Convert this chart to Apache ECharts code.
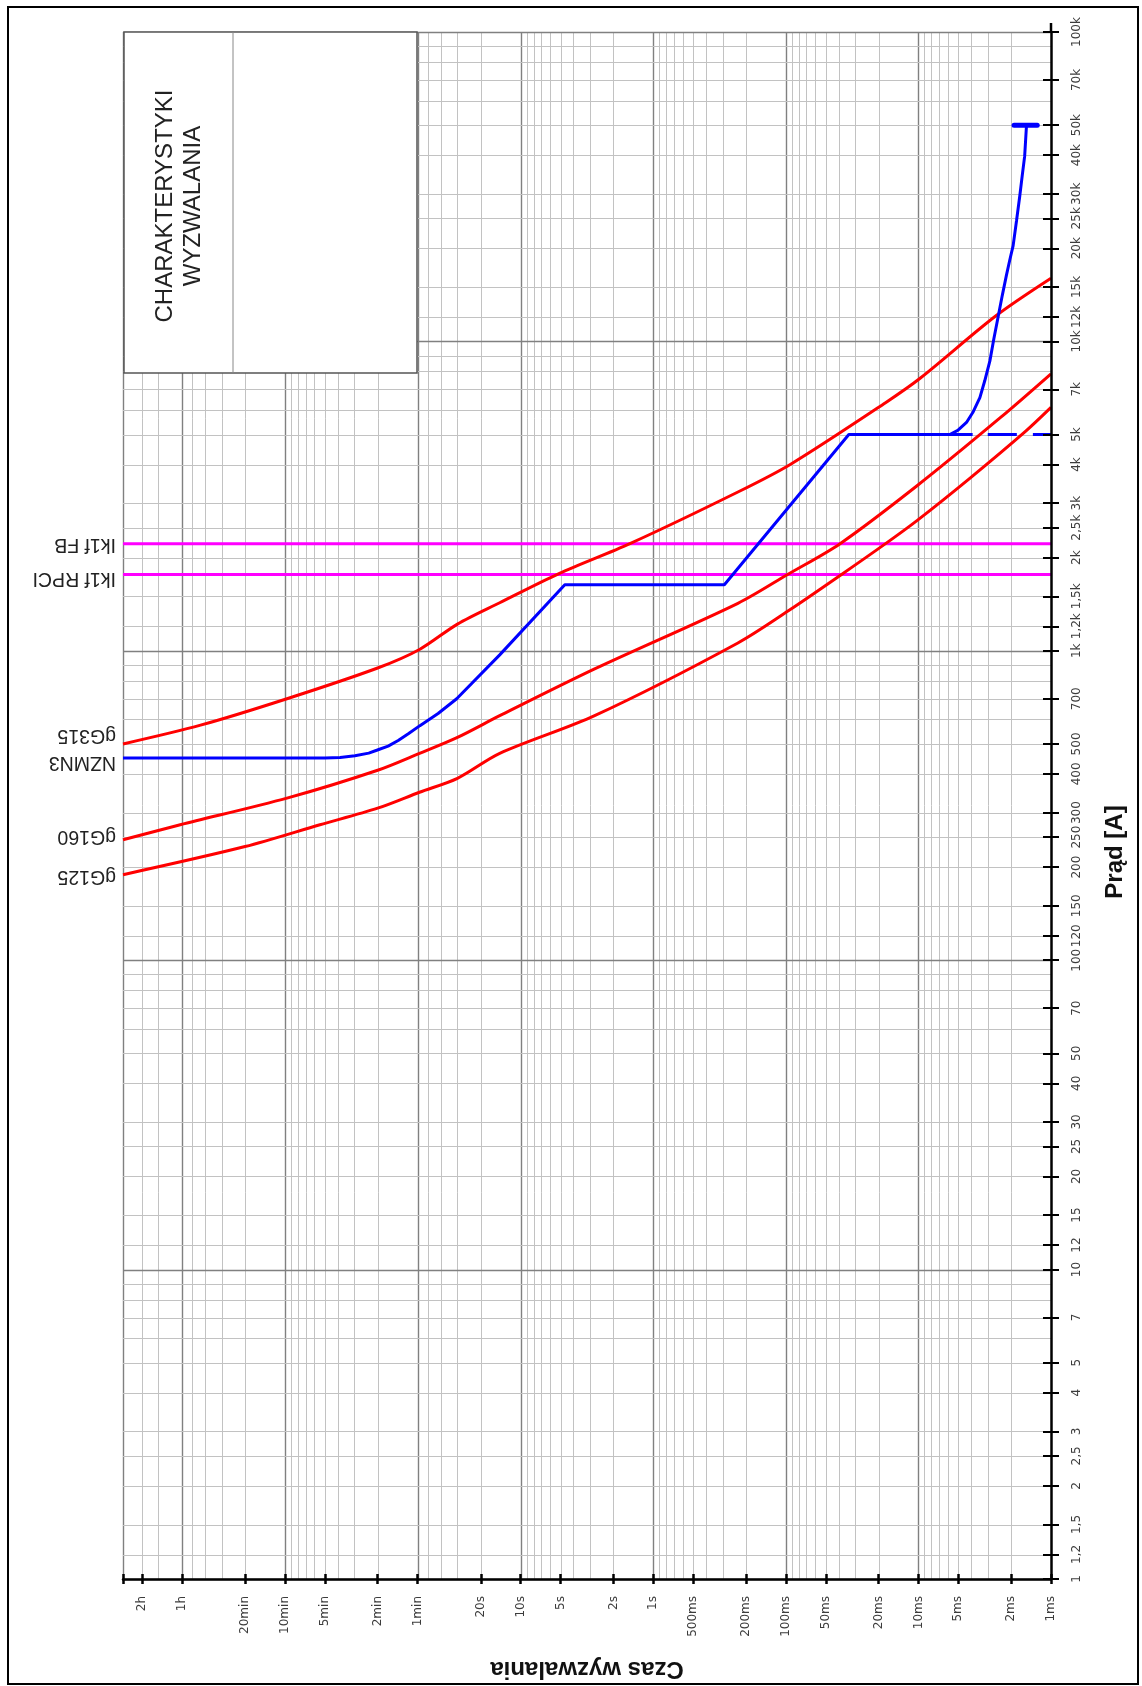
<!DOCTYPE html>
<html>
<head>
<meta charset="utf-8">
<script src="https://cdn.jsdelivr.net/npm/echarts@6/dist/echarts.min.js"></script>
<style>
  html, body { margin: 0; padding: 0; background: #fff; }
  #chart { width: 1142px; height: 1686px; }
</style>
</head>
<body>
<div id="chart"></div>
<script>
// Axis ranges: trip time in seconds (horizontal, reversed), current in amperes (vertical)
const T_MIN = 0.001, T_MAX = 10000;
const I_MIN = 1, I_MAX = 100000;

// Time axis ticks and labels
const timeTickValues = [10000, 7200, 3600, 1200, 600, 300, 120, 60, 20, 10, 5, 2, 1,
  0.5, 0.2, 0.1, 0.05, 0.02, 0.01, 0.005, 0.002, 0.001];
const timeTickLabels = ['', '2h', '1h', '20min', '10min', '5min', '2min', '1min', '20s', '10s', '5s', '2s', '1s',
  '500ms', '200ms', '100ms', '50ms', '20ms', '10ms', '5ms', '2ms', '1ms'];

// Current axis ticks and labels
const currentTickValues = [1, 1.2, 1.5, 2, 2.5, 3, 4, 5, 7, 10, 12, 15, 20, 25, 30, 40, 50, 70,
  100, 120, 150, 200, 250, 300, 400, 500, 700, 1000, 1200, 1500, 2000, 2500, 3000, 4000, 5000, 7000,
  10000, 12000, 15000, 20000, 25000, 30000, 40000, 50000, 70000, 100000];
const currentTickLabels = ['1', '1,2', '1,5', '2', '2,5', '3', '4', '5', '7', '10', '12', '15', '20', '25', '30', '40', '50', '70',
  '100', '120', '150', '200', '250', '300', '400', '500', '700', '1k', '1,2k', '1,5k', '2k', '2,5k', '3k', '4k', '5k', '7k',
  '10k', '12k', '15k', '20k', '25k', '30k', '40k', '50k', '70k', '100k'];

// Time grid lines (ms/s decades, then minutes and hours)
const timeGridLines = [0.002, 0.003, 0.004, 0.005, 0.006, 0.007, 0.008, 0.009,
  0.01, 0.02, 0.03, 0.04, 0.05, 0.06, 0.07, 0.08, 0.09,
  0.1, 0.2, 0.3, 0.4, 0.5, 0.6, 0.7, 0.8, 0.9,
  1, 2, 3, 4, 5, 6, 7, 8, 9,
  10, 20, 30, 40, 50,
  60, 120, 180, 240, 300, 360, 420, 480, 540,
  600, 1200, 1800, 2400, 3000,
  3600, 5400, 7200, 10000];
const timeGridMajor = [0.01, 0.1, 1, 10, 60, 600, 3600, 10000];

// Current grid lines
const currentGridLines = [1, 1.2, 1.5, 2, 2.5, 3, 4, 5, 6, 7, 8, 9,
  10, 12, 15, 20, 25, 30, 40, 50, 60, 70, 80, 90,
  100, 120, 150, 200, 250, 300, 400, 500, 600, 700, 800, 900,
  1000, 1200, 1500, 2000, 2500, 3000, 4000, 5000, 6000, 7000, 8000, 9000,
  10000, 12000, 15000, 20000, 25000, 30000, 40000, 50000, 60000, 70000, 80000, 90000, 100000];
const currentGridMajor = [1, 10, 100, 1000, 10000, 100000];

// Characteristics: [time s, current A]
const gG315 = [[10000, 500], [2600, 575], [580, 700], [120, 880], [58, 1010], [30, 1220], [14.4, 1430],
  [5.1, 1780], [1.5, 2220], [0.23, 3260], [0.092, 4010], [0.0177, 6340], [0.0096, 7630], [0.0026, 12100], [0.001, 16000]];
const gG160 = [[10000, 245], [3700, 274], [580, 334], [120, 411], [58, 466], [30, 525], [14.4, 617],
  [2.77, 874], [0.23, 1424], [0.097, 1765], [0.039, 2220], [0.0103, 3410], [0.0024, 5680], [0.001, 7860]];
const gG125 = [[10000, 189], [1200, 233], [327, 274], [120, 310], [58, 349], [30, 387], [14.4, 466],
  [2.77, 617], [0.23, 1060], [0.092, 1362], [0.038, 1765], [0.0177, 2220], [0.0102, 2640], [0.0041, 3610],
  [0.00155, 5130], [0.001, 6120]];
const nzmn3 = [[10000, 450], [300, 450], [230, 452], [178, 458], [140, 467], [122, 477], [100, 492],
  [84, 513], [70, 540], [57.6, 573], [42, 627], [30.4, 700], [14.4, 970], [4.65, 1635], [0.291, 1635],
  [0.0335, 5000], [0.0058, 5000], [0.00505, 5156], [0.00434, 5470], [0.00389, 5890], [0.00344, 6580],
  [0.00316, 7460], [0.00289, 8650], [0.0027, 10180], [0.0025, 12060], [0.00233, 14090], [0.00217, 16340],
  [0.00205, 18260], [0.00193, 20400], [0.00182, 24540], [0.00172, 29500], [0.00165, 34220], [0.00158, 39700],
  [0.00153, 50000]];
// Instantaneous release level, drawn as separate dashes ('-' breaks the line)
const nzmn3Instant = [[0.0058, 5000], [0.0039, 5000], [0.0039, '-'],
  [0.0030, 5000], [0.00181, 5000], [0.00181, '-'],
  [0.00137, 5000], [0.001, 5000]];
const nzmn3Cap = [[0.0019, 50000], [0.00127, 50000]];
const ik1fFB = [[10000, 2220], [0.001, 2220]];
const ik1fRPCI = [[10000, 1765], [0.001, 1765]];

const curveLabels = [
  { text: 'Ik1f FB', value: 2220, dy: 1 },
  { text: 'Ik1f RPCI', value: 1765, dy: 4 },
  { text: 'gG315', value: 500, dy: -9 },
  { text: 'NZMN3', value: 450, dy: 4 },
  { text: 'gG160', value: 245, dy: -3 },
  { text: 'gG125', value: 189, dy: 2 }
];

const RED = '#ff0000', BLUE = '#0000ff', MAGENTA = '#ff00ff';
const TICK_FONT = '"DejaVu Sans", sans-serif';
const SANS = '"Liberation Sans", Arial, sans-serif';

function labelLookup(values, labels) {
  return function (v) {
    for (let i = 0; i < values.length; i++) {
      if (Math.abs(Math.log10(v) - Math.log10(values[i])) < 1e-6) return labels[i];
    }
    return '';
  };
}

const timeLabelValues = timeTickValues.filter((v, i) => timeTickLabels[i] !== '');

const chart = echarts.init(document.getElementById('chart'));

const xBase = {
  type: 'log', logBase: 10, min: T_MIN, max: T_MAX, inverse: true, position: 'bottom',
  splitLine: { show: false }, minorTick: { show: false }, minorSplitLine: { show: false }, z: 10
};
const yBase = {
  type: 'log', logBase: 10, min: I_MIN, max: I_MAX, position: 'right',
  splitLine: { show: false }, minorTick: { show: false }, minorSplitLine: { show: false }, z: 10
};

function lineSeries(name, data, color, width, extra) {
  return Object.assign({
    name, type: 'line', data, showSymbol: false, symbol: 'none', z: 4,
    lineStyle: { color, width }, silent: true, animation: false
  }, extra || {});
}

chart.setOption({
  animation: false,
  backgroundColor: '#fff',
  grid: { left: 123, right: 91, top: 32, bottom: 97, containLabel: false },
  xAxis: [
    Object.assign({}, xBase, {
      axisLine: { show: true, lineStyle: { color: '#000', width: 2.5 } },
      axisTick: { show: true, customValues: timeTickValues, length: 5, lineStyle: { color: '#000', width: 2.5 } },
      axisLabel: {
        show: true, customValues: timeLabelValues, rotate: 90, margin: 17,
        formatter: labelLookup(timeTickValues, timeTickLabels),
        color: '#3c3c3c', fontFamily: TICK_FONT, fontSize: 12
      },
      name: 'Czas wyzwalania', nameLocation: 'middle', nameGap: 78, nameRotate: 180,
      nameTextStyle: { fontFamily: SANS, fontWeight: 'bold', fontSize: 24, color: '#111' }
    }),
    Object.assign({}, xBase, {
      axisLine: { show: false },
      axisTick: { show: true, inside: true, customValues: timeTickValues, length: 5, lineStyle: { color: '#000', width: 2.5 } },
      axisLabel: { show: false }
    })
  ],
  yAxis: [
    Object.assign({}, yBase, {
      axisLine: { show: true, lineStyle: { color: '#000', width: 2.5 } },
      axisTick: { show: true, customValues: currentTickValues, length: 8, lineStyle: { color: '#000', width: 2 } },
      axisLabel: {
        show: true, customValues: currentTickValues, rotate: 90, margin: 20,
        formatter: labelLookup(currentTickValues, currentTickLabels),
        color: '#3c3c3c', fontFamily: TICK_FONT, fontSize: 12
      }
    }),
    Object.assign({}, yBase, {
      axisLine: { show: false },
      axisTick: { show: true, inside: true, customValues: currentTickValues, length: 8, lineStyle: { color: '#000', width: 2 } },
      axisLabel: { show: false }
    })
  ],
  series: [
    {
      type: 'custom', name: 'time grid', z: 1, silent: true,
      data: timeGridLines.map(t => [t, I_MIN, timeGridMajor.includes(t) ? 1 : 0]),
      encode: { x: 0, y: 1 },
      renderItem: function (params, api) {
        const t = api.value(0);
        const a = api.coord([t, I_MIN]);
        const b = api.coord([t, I_MAX]);
        const x = Math.round(a[0]) + 0.5;
        return {
          type: 'line', shape: { x1: x, y1: a[1], x2: x, y2: b[1] },
          style: { stroke: api.value(2) ? '#808080' : '#c2c2c2', lineWidth: api.value(2) ? 1.4 : 1 }
        };
      }
    },
    {
      type: 'custom', name: 'current grid', z: 1, silent: true,
      data: currentGridLines.map(i => [T_MIN, i, currentGridMajor.includes(i) ? 1 : 0]),
      encode: { x: 0, y: 1 },
      renderItem: function (params, api) {
        const i = api.value(1);
        const a = api.coord([T_MAX, i]);
        const b = api.coord([T_MIN, i]);
        const y = Math.round(a[1]) + 0.5;
        return {
          type: 'line', shape: { x1: a[0], y1: y, x2: b[0], y2: y },
          style: { stroke: api.value(2) ? '#808080' : '#c2c2c2', lineWidth: api.value(2) ? 1.4 : 1 }
        };
      }
    },
    lineSeries('Ik1f FB', ik1fFB, MAGENTA, 3),
    lineSeries('Ik1f RPCI', ik1fRPCI, MAGENTA, 3),
    lineSeries('gG315', gG315, RED, 3, { smooth: 0.3 }),
    lineSeries('gG160', gG160, RED, 3, { smooth: 0.3 }),
    lineSeries('gG125', gG125, RED, 3, { smooth: 0.3 }),
    lineSeries('NZMN3', nzmn3, BLUE, 3),
    lineSeries('NZMN3 instantaneous', nzmn3Instant, BLUE, 3, { connectNulls: false }),
    lineSeries('NZMN3 limit', nzmn3Cap, BLUE, 5, { lineStyle: { color: BLUE, width: 5, cap: 'round' } })
  ]
});

// Frame, title block, axis title and curve labels
const graphics = [
  {
    type: 'rect', z: 50, silent: true,
    shape: { x: 124, y: 32, width: 293, height: 341 },
    style: { fill: '#fff', stroke: '#555', lineWidth: 1.5 }
  },
  {
    type: 'line', z: 51, silent: true,
    shape: { x1: 233, y1: 32, x2: 233, y2: 373 },
    style: { stroke: '#888', lineWidth: 1 }
  },
  {
    type: 'text', z: 52, silent: true, x: 179, y: 206, rotation: Math.PI / 2,
    style: {
      text: 'CHARAKTERYSTYKI\nWYZWALANIA', align: 'center', verticalAlign: 'middle',
      font: '24px "Liberation Sans", Arial, sans-serif', lineHeight: 28, fill: '#222'
    }
  },
  {
    type: 'text', z: 52, silent: true, x: 1115, y: 852, rotation: Math.PI / 2,
    style: {
      text: 'Prąd [A]', align: 'center', verticalAlign: 'middle',
      font: 'bold 24px "Liberation Sans", Arial, sans-serif', fill: '#111'
    }
  },
  {
    type: 'line', z: 11, silent: true,
    shape: { x1: 1051, y1: 23, x2: 1051, y2: 33 },
    style: { stroke: '#000', lineWidth: 2.5 }
  },
  {
    type: 'rect', z: 60, silent: true,
    shape: { x: 8, y: 7, width: 1130, height: 1677 },
    style: { fill: 'none', stroke: '#000', lineWidth: 2 }
  }
];

curveLabels.forEach(function (lab) {
  const p = chart.convertToPixel({ xAxisIndex: 0, yAxisIndex: 0 }, [T_MAX, lab.value]);
  graphics.push({
    type: 'text', z: 52, silent: true, x: p[0] - 7, y: p[1] + lab.dy, rotation: Math.PI,
    style: {
      text: lab.text, align: 'left', verticalAlign: 'middle',
      font: '19.5px "Liberation Sans", Arial, sans-serif', fill: '#222'
    }
  });
});

chart.setOption({ graphic: { elements: graphics } });
</script>
</body>
</html>
